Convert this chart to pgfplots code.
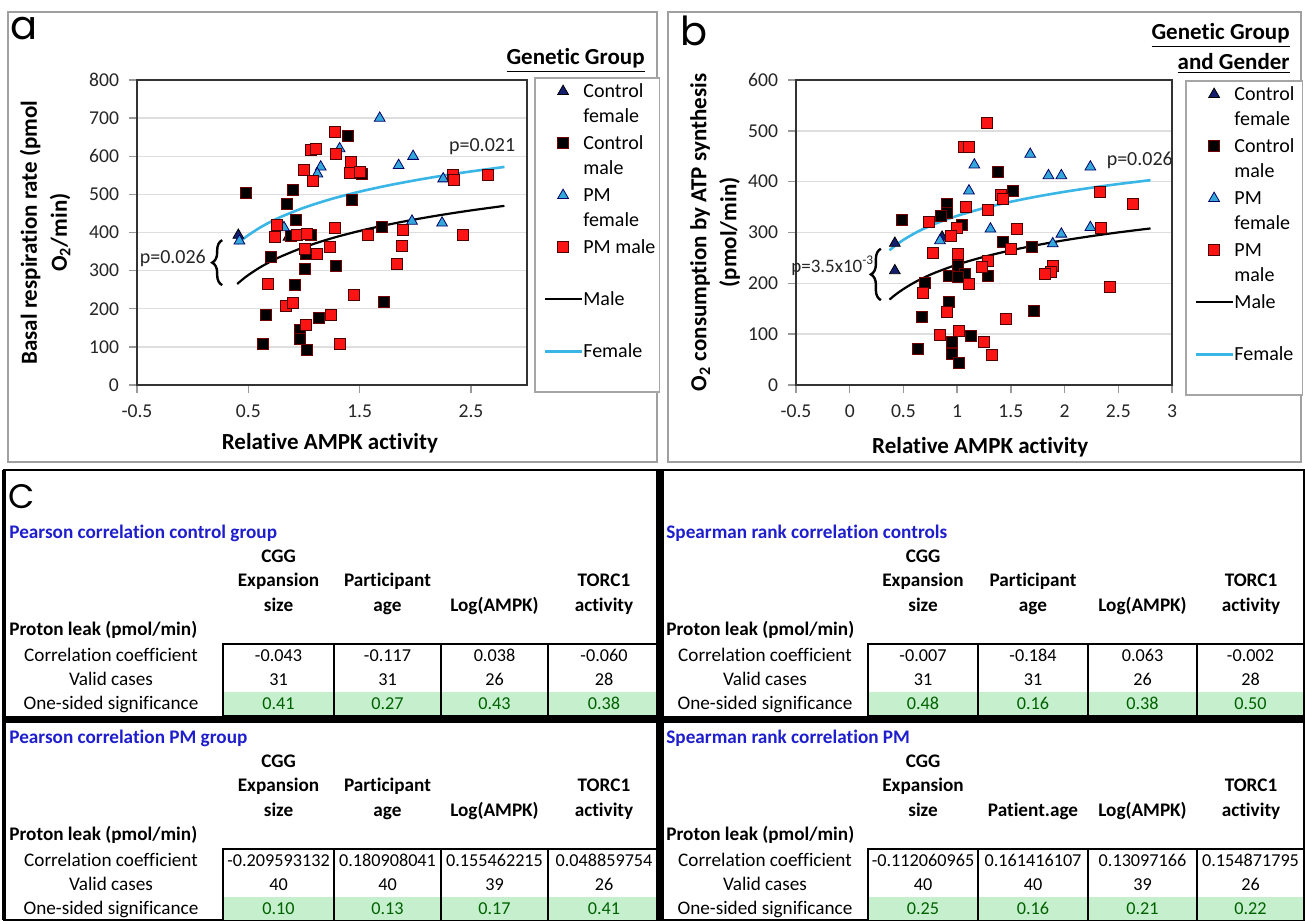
\documentclass[border=0pt]{standalone}
\usepackage{fontspec}
\setmainfont{Carlito}[Ligatures={NoCommon,NoContextual},Contextuals={NoAlternate}]
\newfontfamily\letterfont{Poppins}
\usepackage{pgfplots}
\pgfplotsset{compat=1.18}
\usetikzlibrary{decorations.pathreplacing}

\definecolor{pmred}{RGB}{250,20,20}
\definecolor{pmblue}{RGB}{52,168,218}
\definecolor{navy}{RGB}{20,30,110}
\definecolor{femline}{RGB}{58,182,230}
\definecolor{gridc}{RGB}{222,222,222}
\definecolor{good}{RGB}{198,239,206}
\definecolor{goodtxt}{RGB}{0,97,0}
\definecolor{ttl}{RGB}{30,30,205}
\definecolor{panelgray}{RGB}{160,160,160}

\newcommand\lgw{33pt}
\newcommand\lgn[1]{\parbox[t]{\lgw}{\strut#1\strut}}

\newcommand\tabfont{\fontsize{9.6}{11.5}\selectfont}
\newcommand\numfont{\fontsize{9.1}{11}\selectfont}
\newcommand\tabfontb{\bfseries\fontsize{9.6}{11.5}\selectfont}
\newcommand\setcols[6]{\def\ba{#1}\def\bb{#2}\def\bc{#3}\def\bd{#4}\def\be{#5}\def\labx{#6}}
\newcommand\tgrid[1]{%
  \fill[good] (\ba,692+#1) rectangle (\be,716+#1);
  \draw[line width=0.6pt] (\ba,644+#1) rectangle (\be,716+#1);
  \draw[line width=0.6pt] (\bb,644+#1) -- (\bb,716+#1) (\bc,644+#1) -- (\bc,716+#1) (\bd,644+#1) -- (\bd,716+#1);
}
\newcommand\trow[7]{%
  \node[font=\tabfont,anchor=base] at (\labx,#1+5) {#2};
  \node[font=\numfont,anchor=base,text=#7] at ({(\ba+\bb)/2},#1+5) {#3};
  \node[font=\numfont,anchor=base,text=#7] at ({(\bb+\bc)/2},#1+5) {#4};
  \node[font=\numfont,anchor=base,text=#7] at ({(\bc+\bd)/2},#1+5) {#5};
  \node[font=\numfont,anchor=base,text=#7] at ({(\bd+\be)/2},#1+5) {#6};
}
\newcommand\hcell[3]{\node[font=\tabfontb,anchor=base] at (#1,#2+5) {#3};}

\pgfplotsset{
 panel/.style={
  scale only axis, clip=false,
  axis line style={black!80, line width=1.1pt},
  ymajorgrids, grid style={gridc, line width=0.7pt},
  tick pos=left, tick align=outside, major tick length=4pt,
  tick style={black!40, line width=0.7pt},
  tick label style={font=\fontsize{9.8}{11}\selectfont, text=black!85},
  /pgf/number format/assume math mode=true,
  xticklabel shift=2.5pt, yticklabel shift=1.5pt,
  label style={font=\bfseries\fontsize{11.5}{15}\selectfont, align=center},
  legend image code/.code={\draw[mark repeat=2,mark phase=2,yshift=3pt,##1] plot coordinates {(0pt,0pt) (9pt,0pt) (18pt,0pt)};},
  legend style={anchor=north west, draw=black!35, line width=0.8pt, fill=white,
    font=\fontsize{10}{12.5}\selectfont, inner xsep=4.5pt, inner ysep=0.5pt,
    cells={anchor=base west}, nodes={inner sep=0.5pt, text depth=}, column sep=0pt},
 },
 cf/.style={only marks, mark=triangle*, mark size=3.1pt, mark options={fill=navy, draw=black, line width=0.4pt}},
 cm/.style={only marks, mark=square*, mark size=2.75pt, mark options={fill=black, draw=red!45!black, line width=0.4pt}},
 pf/.style={only marks, mark=triangle*, mark size=3.1pt, mark options={fill=pmblue, draw=blue!40!black, line width=0.4pt}},
 pm/.style={only marks, mark=square*, mark size=2.75pt, mark options={fill=pmred, draw=black!70!red, line width=0.4pt}},
 mline/.style={black, line width=1.1pt, mark=none, smooth},
 fline/.style={femline, line width=1.3pt, mark=none, smooth},
}

\begin{document}
\begin{tikzpicture}
\useasboundingbox (0,0) rectangle (652.5pt,-460pt);
\fill[white] (0,0) rectangle (652.5pt,-460pt);

\begin{scope}[x=0.5pt,y=-0.5pt]
\draw[panelgray, line width=0.8pt] (8,12) rectangle (657,462);
\draw[panelgray, line width=0.8pt] (668,12) rectangle (1301,462);
\node[anchor=base west, font=\letterfont\fontsize{20}{20}\selectfont, inner sep=0] at (10,40) {a};
\node[anchor=base west, font=\letterfont\fontsize{20}{20}\selectfont, inner sep=0] at (680,46) {b};
\node[anchor=base east, font=\bfseries\fontsize{11.5}{13}\selectfont, inner sep=0] at (645,65) {\underline{Genetic Group}};
\node[anchor=base east, font=\bfseries\fontsize{11.5}{13}\selectfont, inner sep=0] at (1290,40) {\underline{Genetic Group}};
\node[anchor=base east, font=\bfseries\fontsize{11.5}{13}\selectfont, inner sep=0] at (1290,69) {\underline{and Gender}};
\end{scope}

% ---------------- panel a ----------------
\def\lgw{33pt}
\begin{axis}[panel, at={(68.5pt,-192.5pt)}, anchor=south west,
  width=194.85pt, height=152.5pt,
  xmin=-0.5, xmax=3, ymin=0, ymax=800,
  xtick={-0.5,0.5,1.5,2.5}, ytick={0,100,...,800},
  xlabel={Relative AMPK activity},
  ylabel={Basal respiration rate (pmol\\O\textsubscript{2}/min)},
  xlabel style={at={(axis description cs:0.495,-0.19)}, anchor=center},
  ylabel style={at={(axis description cs:-0.236,0.5)}, anchor=center},
  legend style={at={(1.0187,1.0098)}}]
\addplot[cf] coordinates {(0.41,393) (0.86,388)};
\addlegendentry{\lgn{Control\\female}}
\addplot[cm] coordinates {(0.48,503) (0.90,512) (0.85,476) (0.93,432) (1.06,395) (1.39,654) (1.43,486) (1.52,554) (1.70,414) (1.29,312) (1.01,304) (0.92,262) (0.70,336) (0.66,185) (0.63,109) (0.96,144) (0.96,120) (1.03,92) (1.13,177) (1.72,218) (0.88,390) (1.02,345)};
\addlegendentry{\lgn{Control\\male}}
\addplot[pf] coordinates {(1.68,700) (1.32,620) (1.15,572) (1.12,554) (1.85,576) (1.98,600) (2.25,541) (1.97,430) (2.24,425) (0.82,413) (0.42,378)};
\addlegendentry{\lgn{PM\\female}}
\addplot[pm] coordinates {(1.28,665) (1.06,617) (1.11,620) (1.29,606) (1.42,586) (1.41,556) (1.50,560) (1.00,565) (1.08,535) (2.34,552) (2.35,538) (2.65,552) (0.76,421) (0.74,388) (0.94,395) (1.03,397) (1.28,413) (1.57,395) (1.89,406) (1.88,365) (1.83,317) (2.43,395) (1.01,358) (1.12,345) (1.23,362) (0.68,266) (0.84,208) (0.90,215) (1.45,236) (1.24,185) (1.02,157) (1.32,107)};
\addlegendentry{\lgn{\mbox{PM male}\\\mbox{}}}
\addplot[mline] coordinates {(0.4,265) (0.45,277.4) (0.5,288.5) (0.6,307.7) (0.7,323.9) (0.8,338) (1.0,361.5) (1.25,385) (1.5,404.2) (1.75,420.4) (2.0,434.5) (2.25,446.9) (2.5,458) (2.8,469.9)};
\addlegendentry{\lgn{Male\\\mbox{}}}
\addplot[fline] coordinates {(0.4,370) (0.45,382.2) (0.5,393.1) (0.6,412.1) (0.7,428.1) (0.8,441.9) (1.0,465.1) (1.25,488.3) (1.5,507.2) (1.75,523.2) (2.0,537.0) (2.25,549.3) (2.5,560.2) (2.8,572)};
\addlegendentry{\lgn{Female\\\mbox{}}}
\node[font=\fontsize{10}{12}\selectfont, text=black!85] at (axis cs:2.60,624) {p=0.021};
\node[anchor=east, font=\fontsize{10}{12}\selectfont, text=black!85, inner sep=1pt] at (axis cs:0.14,332) {p=0.026};
\draw[line width=1.2pt, decorate, decoration={brace, amplitude=5pt}] (axis cs:0.265,262) -- (axis cs:0.265,380);
\end{axis}

% ---------------- panel b ----------------
\def\lgw{29pt}
\begin{axis}[panel, at={(398pt,-192.5pt)}, anchor=south west,
  width=188pt, height=152.5pt,
  xmin=-0.5, xmax=3, ymin=0, ymax=600,
  xtick={-0.5,0,0.5,1,1.5,2,2.5,3}, ytick={0,100,...,600},
  xlabel={Relative AMPK activity},
  ylabel={O\textsubscript{2} consumption by ATP synthesis\\(pmol/min)},
  xlabel style={at={(axis description cs:0.49,-0.203)}, anchor=center},
  ylabel style={at={(axis description cs:-0.215,0.5)}, anchor=center},
  legend style={at={(1.0346,1.0)}}]
\addplot[cf] coordinates {(0.42,279) (0.42,225) (0.86,291)};
\addlegendentry{\lgn{Control\\female}}
\addplot[cm] coordinates {(0.49,325) (0.90,356) (0.90,338) (0.85,333) (1.04,314) (1.38,420) (1.52,382) (1.43,281) (1.70,271) (1.01,235) (0.92,214) (1.07,218) (1.29,214) (0.70,201) (0.92,163) (0.67,133) (0.63,72) (0.95,84) (0.95,61) (1.02,44) (1.13,96) (1.71,145) (1.01,212)};
\addlegendentry{\lgn{Control\\male}}
\addplot[pf] coordinates {(1.68,454) (1.16,433) (1.11,382) (1.85,412) (1.97,412) (2.24,429) (1.31,307) (1.97,297) (1.89,278) (2.24,310) (0.84,284)};
\addlegendentry{\lgn{PM\\female}}
\addplot[pm] coordinates {(1.28,515) (1.06,469) (1.11,469) (1.41,374) (1.43,366) (1.08,350) (1.29,344) (0.74,320) (1.00,310) (0.94,293) (1.56,307) (1.50,268) (2.33,379) (2.64,357) (2.34,310) (0.77,260) (1.01,258) (1.29,244) (1.23,233) (1.11,199) (0.68,182) (0.90,144) (1.45,130) (1.89,235) (1.87,222) (1.82,218) (2.42,193) (0.84,99) (1.02,106) (1.25,84) (1.32,59)};
\addlegendentry{\lgn{PM\\male}}
\addplot[mline] coordinates {(0.37,168) (0.43,178.4) (0.5,188.8) (0.6,201.5) (0.7,212.1) (0.8,221.4) (1.0,236.8) (1.25,252.2) (1.5,264.9) (1.75,275.5) (2.0,284.8) (2.25,292.9) (2.5,300.2) (2.8,308)};
\addlegendentry{\lgn{Male\\\mbox{}}}
\addplot[fline] coordinates {(0.37,265) (0.43,275.2) (0.5,285.5) (0.6,298) (0.7,308.5) (0.8,317.6) (1.0,332.8) (1.25,348) (1.5,360.5) (1.75,371) (2.0,380.1) (2.25,388.1) (2.5,395.3) (2.8,403)};
\addlegendentry{\lgn{Female\\\mbox{}}}
\node[font=\fontsize{10}{12}\selectfont, text=black!85] at (axis cs:2.70,441) {p=0.026};
\node[anchor=east, font=\fontsize{9.5}{12}\selectfont, text=black!85, inner sep=1pt] at (axis cs:0.25,235) {p=3.5x10\textsuperscript{-3}};
\draw[line width=1.2pt, decorate, decoration={brace, amplitude=5pt}] (axis cs:0.29,167) -- (axis cs:0.29,268);
\end{axis}

% ---------------- panel c ----------------
\begin{scope}[x=0.5pt,y=-0.5pt]
\draw[line width=0.8pt] (4,470) rectangle (1304,920);
\fill (2,470) rectangle (6,920);
\node[anchor=base west, font=\letterfont\fontsize{17}{17}\selectfont, inner sep=0] at (8,508) {C};

% top-left
\setcols{223}{334}{441}{548}{660}{111}
\node[anchor=base west, font=\tabfontb, text=ttl, inner sep=0] at (9,538) {Pearson correlation control group};
\hcell{278.5}{557}{CGG}\hcell{278.5}{581}{Expansion}\hcell{278.5}{606}{size}
\hcell{387.5}{581}{Participant}\hcell{387.5}{606}{age}
\hcell{494.5}{606}{Log(AMPK)}
\hcell{604}{581}{TORC1}\hcell{604}{606}{activity}
\node[anchor=base west, font=\tabfontb, inner sep=0] at (9,635) {Proton leak (pmol/min)};
\tgrid{0}
\trow{656}{Correlation coefficient}{-0.043}{-0.117}{0.038}{-0.060}{black}
\trow{680}{Valid cases}{31}{31}{26}{28}{black}
\trow{704}{One-sided significance}{0.41}{0.27}{0.43}{0.38}{goodtxt}

% bottom-left
\node[anchor=base west, font=\tabfontb, text=ttl, inner sep=0] at (9,743) {Pearson correlation PM group};
\hcell{278.5}{762}{CGG}\hcell{278.5}{786}{Expansion}\hcell{278.5}{811}{size}
\hcell{387.5}{786}{Participant}\hcell{387.5}{811}{age}
\hcell{494.5}{811}{Log(AMPK)}
\hcell{604}{786}{TORC1}\hcell{604}{811}{activity}
\node[anchor=base west, font=\tabfontb, inner sep=0] at (9,840) {Proton leak (pmol/min)};
\tgrid{205}
\trow{861}{Correlation coefficient}{-0.209593132}{0.180908041}{0.155462215}{0.048859754}{black}
\trow{885}{Valid cases}{40}{40}{39}{26}{black}
\trow{909}{One-sided significance}{0.10}{0.13}{0.17}{0.41}{goodtxt}

% top-right
\setcols{868}{978}{1088}{1197}{1304}{765}
\node[anchor=base west, font=\tabfontb, text=ttl, inner sep=0] at (666,538) {Spearman rank correlation controls};
\hcell{923}{557}{CGG}\hcell{923}{581}{Expansion}\hcell{923}{606}{size}
\hcell{1033}{581}{Participant}\hcell{1033}{606}{age}
\hcell{1142.5}{606}{Log(AMPK)}
\hcell{1251}{581}{TORC1}\hcell{1251}{606}{activity}
\node[anchor=base west, font=\tabfontb, inner sep=0] at (666,635) {Proton leak (pmol/min)};
\tgrid{0}
\trow{656}{Correlation coefficient}{-0.007}{-0.184}{0.063}{-0.002}{black}
\trow{680}{Valid cases}{31}{31}{26}{28}{black}
\trow{704}{One-sided significance}{0.48}{0.16}{0.38}{0.50}{goodtxt}

% bottom-right
\node[anchor=base west, font=\tabfontb, text=ttl, inner sep=0] at (666,743) {Spearman rank correlation PM};
\hcell{923}{762}{CGG}\hcell{923}{786}{Expansion}\hcell{923}{811}{size}
\hcell{1033}{811}{Patient.age}
\hcell{1142.5}{811}{Log(AMPK)}
\hcell{1251}{786}{TORC1}\hcell{1251}{811}{activity}
\node[anchor=base west, font=\tabfontb, inner sep=0] at (666,840) {Proton leak (pmol/min)};
\tgrid{205}
\trow{861}{Correlation coefficient}{-0.112060965}{0.161416107}{0.13097166}{0.154871795}{black}
\trow{885}{Valid cases}{40}{40}{39}{26}{black}
\trow{909}{One-sided significance}{0.25}{0.16}{0.21}{0.22}{goodtxt}

% thick dividers
\fill (656,470) rectangle (664,920);
\fill (4,716) rectangle (1304,723);
\end{scope}
\end{tikzpicture}
\end{document}
